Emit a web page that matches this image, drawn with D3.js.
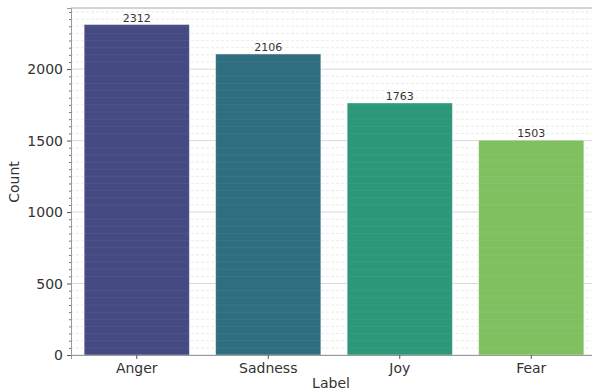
<!DOCTYPE html>
<html>
<head>
<meta charset="utf-8">
<script src="https://cdn.jsdelivr.net/npm/d3@7"></script>
<style>
  body { margin: 0; background: #fff; }
  text { font-family: "DejaVu Sans", sans-serif; fill: #333; }
</style>
</head>
<body>
<div id="vis1"></div>
<script>
const FRAME_WIDTH = 592;
const FRAME_HEIGHT = 392;
const MARGINS = {left: 71, right: -5, top: 8, bottom: 37};

const VIS_WIDTH = FRAME_WIDTH - MARGINS.left - MARGINS.right;
const VIS_HEIGHT = FRAME_HEIGHT - MARGINS.top - MARGINS.bottom;

// data
const labels = ["Anger", "Sadness", "Joy", "Fear"];
const counts = [2312, 2106, 1763, 1503];
const colors = ["#454a83", "#2f6e7f", "#2c9879", "#80c060"];
const yTicks = [0, 500, 1000, 1500, 2000];

const FRAME1 = d3.select("#vis1")
  .append("svg")
    .attr("width", FRAME_WIDTH)
    .attr("height", FRAME_HEIGHT);

const g = FRAME1.append("g")
  .attr("transform", `translate(${MARGINS.left},${MARGINS.top})`);

const x_scale = d3.scaleBand()
  .domain(labels)
  .range([0, VIS_WIDTH])
  .paddingInner(0.2)
  .paddingOuter(0.1);

const y_scale = d3.scaleLinear()
  .domain([0, d3.max(counts) * 1.05])
  .range([VIS_HEIGHT, 0]);

// minor grid
const minor = d3.range(0, d3.max(counts) * 1.05, 50).filter(v => v % 500 !== 0);
g.selectAll(".minor")
  .data(minor)
  .join("line")
    .attr("x1", 0).attr("x2", VIS_WIDTH)
    .attr("y1", d => y_scale(d)).attr("y2", d => y_scale(d))
    .attr("stroke", "#e6e6e6")
    .attr("stroke-width", 0.8)
    .attr("stroke-dasharray", "3,2");

// major grid
g.selectAll(".major")
  .data(yTicks)
  .join("line")
    .attr("x1", 0).attr("x2", VIS_WIDTH)
    .attr("y1", d => y_scale(d)).attr("y2", d => y_scale(d))
    .attr("stroke", "#d8d8d8")
    .attr("stroke-width", 1);

// bars
g.selectAll(".bar")
  .data(labels)
  .join("rect")
    .attr("x", d => x_scale(d))
    .attr("y", (d, i) => y_scale(counts[i]))
    .attr("width", x_scale.bandwidth())
    .attr("height", (d, i) => VIS_HEIGHT - y_scale(counts[i]))
    .attr("fill", (d, i) => colors[i])
    .attr("stroke", "#ffffff")
    .attr("stroke-opacity", 0.5)
    .attr("stroke-width", 0.8);

// grid faintly visible through bars
g.selectAll(".over")
  .data(minor)
  .join("line")
    .attr("x1", 0).attr("x2", VIS_WIDTH)
    .attr("y1", d => y_scale(d)).attr("y2", d => y_scale(d))
    .attr("stroke", "#ffffff")
    .attr("stroke-opacity", 0.06)
    .attr("stroke-width", 1);

// value labels
g.selectAll(".val")
  .data(labels)
  .join("text")
    .attr("x", d => x_scale(d) + x_scale.bandwidth() / 2)
    .attr("y", (d, i) => y_scale(counts[i]) - 3)
    .attr("text-anchor", "middle")
    .attr("font-size", "11px")
    .text((d, i) => counts[i]);

// y axis
const yAxis = g.append("g")
  .call(d3.axisLeft(y_scale).tickValues(yTicks).tickFormat(d3.format("d")).tickSize(4).tickPadding(4));
yAxis.selectAll("text").attr("font-size", "14px");
yAxis.selectAll("line").attr("stroke", "#555");
yAxis.select(".domain").attr("stroke", "#999");

g.append("g")
  .call(d3.axisLeft(y_scale).tickValues(minor).tickSize(2).tickFormat(""))
  .call(s => s.select(".domain").remove())
  .selectAll("line").attr("stroke", "#777");

// x axis
const xAxis = g.append("g")
  .attr("transform", `translate(0,${VIS_HEIGHT})`)
  .call(d3.axisBottom(x_scale).tickSize(4).tickPadding(4));
xAxis.selectAll("text").attr("font-size", "14px");
xAxis.selectAll("line").attr("stroke", "#555");
xAxis.select(".domain").attr("stroke", "#999");

// top spine
g.append("line")
  .attr("x1", 0).attr("x2", VIS_WIDTH)
  .attr("y1", 0).attr("y2", 0)
  .attr("stroke", "#aaa");

// axis titles
FRAME1.append("text")
  .attr("x", 331)
  .attr("y", 388)
  .attr("text-anchor", "middle")
  .attr("font-size", "14px")
  .text("Label");

FRAME1.append("text")
  .attr("transform", "translate(19,182) rotate(-90)")
  .attr("text-anchor", "middle")
  .attr("font-size", "14px")
  .text("Count");
</script>
</body>
</html>
